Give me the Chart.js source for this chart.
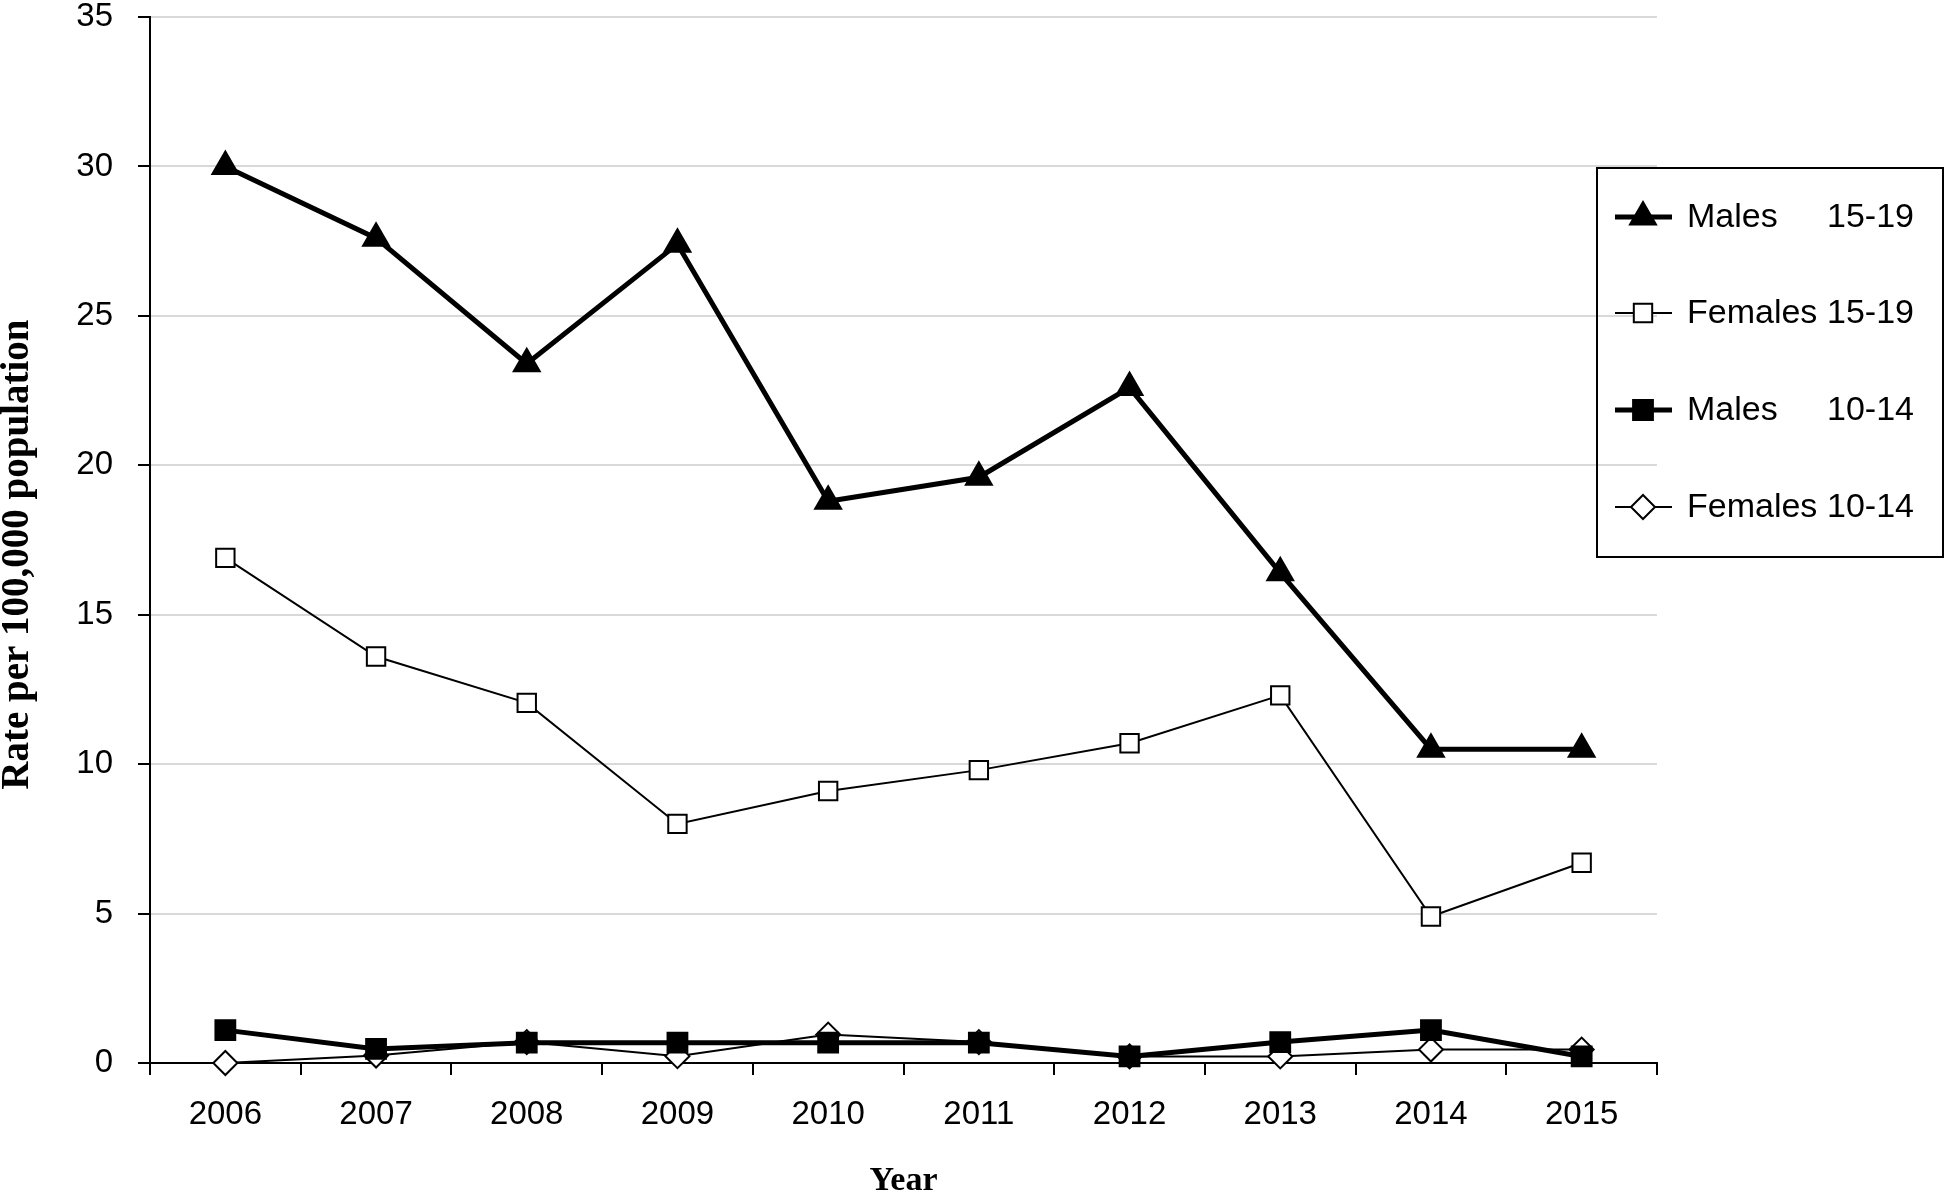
<!DOCTYPE html>
<html>
<head>
<meta charset="utf-8">
<script src="https://cdn.jsdelivr.net/npm/chart.js@4/dist/chart.umd.min.js"></script>
<style>
  html, body { margin: 0; padding: 0; background: #fff; }
  #wrap { width: 1946px; height: 1195px; }
</style>
</head>
<body>
<div id="wrap"><canvas id="myChart" width="1946" height="1195"></canvas></div>
<script>
// Vuodet ja sarjat (luettu kuvasta)
const years = ['2006', '2007', '2008', '2009', '2010', '2011', '2012', '2013', '2014', '2015'];
const males1519 = [30.0, 27.6, 23.4, 27.4, 18.8, 19.6, 22.6, 16.4, 10.5, 10.5];
const females1519 = [16.9, 13.6, 12.05, 8.0, 9.1, 9.8, 10.7, 12.3, 4.9, 6.7];
const males1014 = [1.1, 0.47, 0.68, 0.68, 0.68, 0.68, 0.22, 0.7, 1.1, 0.22];
const females1014 = [0, 0.25, 0.7, 0.23, 0.95, 0.7, 0.22, 0.22, 0.45, 0.45];
const legendNames = ['Males', 'Females', 'Males', 'Females'];
const legendAges = ['15-19', '15-19', '10-14', '10-14'];

const tickFont = { family: 'Liberation Sans', size: 33 };

function makeSet(label, values, style, radius, filled, lineWidth) {
  return {
    label: label,
    data: values,
    borderColor: '#000',
    borderWidth: lineWidth,
    backgroundColor: filled ? '#000' : '#fff',
    pointStyle: style,
    pointRadius: radius,
    pointBorderWidth: 2,
    pointBorderColor: '#000',
    pointBackgroundColor: filled ? '#000' : '#fff',
    tension: 0,
    clip: false
  };
}

// Oma selite kuvan oikeaan reunaan
const boxLegend = {
  id: 'boxLegend',
  afterDraw(chart) {
    const ctx = chart.ctx;
    const x0 = 1597, y0 = 168, w = 346, h = 389;
    ctx.save();
    ctx.strokeStyle = '#000';
    ctx.lineWidth = 2;
    ctx.strokeRect(x0, y0, w, h);
    const rows = [217, 313, 410, 507];
    chart.data.datasets.forEach((ds, i) => {
      const y = rows[i];
      ctx.strokeStyle = '#000';
      ctx.lineWidth = ds.borderWidth;
      ctx.beginPath();
      ctx.moveTo(1615, y);
      ctx.lineTo(1672, y);
      ctx.stroke();
      ctx.fillStyle = ds.pointBackgroundColor;
      ctx.lineWidth = ds.pointBorderWidth;
      Chart.helpers.drawPoint(ctx, {
        pointStyle: ds.pointStyle,
        radius: ds.pointRadius,
        rotation: 0,
        borderWidth: ds.pointBorderWidth
      }, 1643, y);
      ctx.fillStyle = '#000';
      ctx.font = '34px "Liberation Sans"';
      ctx.textBaseline = 'middle';
      ctx.textAlign = 'left';
      ctx.fillText(legendNames[i], 1687, y + 1);
      ctx.fillText(legendAges[i], 1827, y + 1);
    });
    ctx.restore();
  }
};

const config = {
  type: 'line',
  data: {
    labels: years,
    datasets: [
      makeSet('Males 15-19', males1519, 'triangle', 15, true, 5),
      makeSet('Females 15-19', females1519, 'rect', 13, false, 2),
      makeSet('Males 10-14', males1014, 'rect', 14, true, 5),
      makeSet('Females 10-14', females1014, 'rectRot', 12, false, 2)
    ]
  },
  options: {
    responsive: false,
    animation: false,
    layout: {
      padding: { top: 15, right: 289, left: 0, bottom: 0 }
    },
    plugins: {
      legend: { display: false },
      tooltip: { enabled: false }
    },
    scales: {
      x: {
        type: 'category',
        offset: true,
        grid: {
          offset: true,
          drawOnChartArea: false,
          color: '#000',
          lineWidth: 2,
          tickLength: 12
        },
        border: { color: '#000', width: 2 },
        ticks: { color: '#000', font: tickFont, padding: 20, maxRotation: 0 },
        title: {
          display: true,
          text: 'Year',
          color: '#000',
          font: { family: 'Liberation Serif', size: 34, weight: 'bold', lineHeight: 0.8 },
          padding: { top: 0, bottom: 0 }
        },
        afterFit(scale) {
          scale.height = 132;
          scale.paddingLeft = 0;
          scale.paddingRight = 0;
        }
      },
      y: {
        min: 0,
        max: 35,
        ticks: { stepSize: 5, color: '#000', font: tickFont, padding: 25 },
        grid: {
          color: '#d9d9d9',
          lineWidth: 2,
          tickColor: '#000',
          tickLength: 12
        },
        border: { color: '#000', width: 2 },
        title: {
          display: true,
          text: 'Rate per 100,000 population   ',
          color: '#000',
          font: { family: 'Liberation Serif', size: 39, weight: 'bold', lineHeight: 0.9 },
          padding: { top: 0, bottom: 0 }
        },
        afterFit(scale) {
          scale.width = 150;
          scale.paddingTop = 0;
          scale.paddingBottom = 0;
        }
      }
    }
  },
  plugins: [boxLegend]
};

const myChart = new Chart(document.getElementById('myChart'), config);
</script>
</body>
</html>
